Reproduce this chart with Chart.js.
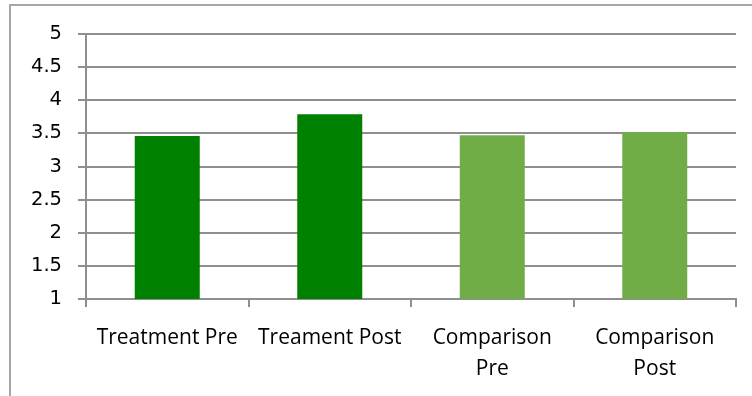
<!DOCTYPE html>
<html>
<head>
<meta charset="utf-8">
<script src="https://cdn.jsdelivr.net/npm/chart.js@4/dist/chart.umd.min.js"></script>
<style>
  html, body { margin: 0; padding: 0; background: #ffffff; }
  #wrap { position: relative; width: 752px; height: 396px; overflow: hidden; }
  #frame {
    position: absolute; left: 9px; top: 4px; width: 800px; height: 420px;
    border-top: 2px solid #a6a6a6; border-left: 2px solid #a6a6a6;
  }
  canvas { position: absolute; left: 0; top: 0; }
</style>
</head>
<body>
<div id="wrap">
  <div id="frame"></div>
  <canvas id="chart" width="752" height="396"></canvas>
</div>
<script>
// Group labels (multi-line where the label wraps under the bar)
const categories = [
  "Treatment Pre",
  "Treament Post",
  ["Comparison", "Pre"],
  ["Comparison", "Post"]
];

// Mean scores per group
const meanScores = [3.46, 3.79, 3.47, 3.52];

// Value axis range and step
const yMin = 1;
const yMax = 5;
const yStep = 0.5;

const barFills = ["#008000", "#008000", "#70ad47", "#70ad47"];
const gridGray = "#8f8f8f";

new Chart(document.getElementById("chart"), {
  type: "bar",
  data: {
    labels: categories,
    datasets: [{
      data: meanScores,
      backgroundColor: barFills,
      borderWidth: 0,
      categoryPercentage: 1.0,
      barPercentage: 0.4
    }]
  },
  options: {
    responsive: false,
    animation: false,
    events: [],
    layout: { padding: { top: 34, right: 16, left: 0, bottom: 0 } },
    plugins: {
      legend: { display: false },
      tooltip: { enabled: false }
    },
    scales: {
      x: {
        grid: {
          offset: true,
          drawOnChartArea: false,
          drawTicks: true,
          tickLength: 8,
          color: gridGray,
          lineWidth: 2
        },
        border: { display: true, color: gridGray, width: 2 },
        ticks: {
          autoSkip: false,
          maxRotation: 0,
          minRotation: 0,
          padding: 16,
          color: "#000000",
          font: { family: "'Open Sans', sans-serif", size: 21, lineHeight: 1.45 }
        },
        afterFit(scale) { scale.height = 97; }
      },
      y: {
        min: yMin,
        max: yMax,
        grid: {
          color: gridGray,
          lineWidth: 2,
          tickLength: 8,
          drawTicks: true
        },
        border: { display: true, color: gridGray, width: 2 },
        ticks: {
          stepSize: yStep,
          padding: 16,
          color: "#000000",
          font: { family: "'DejaVu Sans', sans-serif", size: 19.5 },
          callback: (value) => String(value)
        },
        afterFit(scale) { scale.width = 86; }
      }
    }
  }
});
</script>
</body>
</html>
